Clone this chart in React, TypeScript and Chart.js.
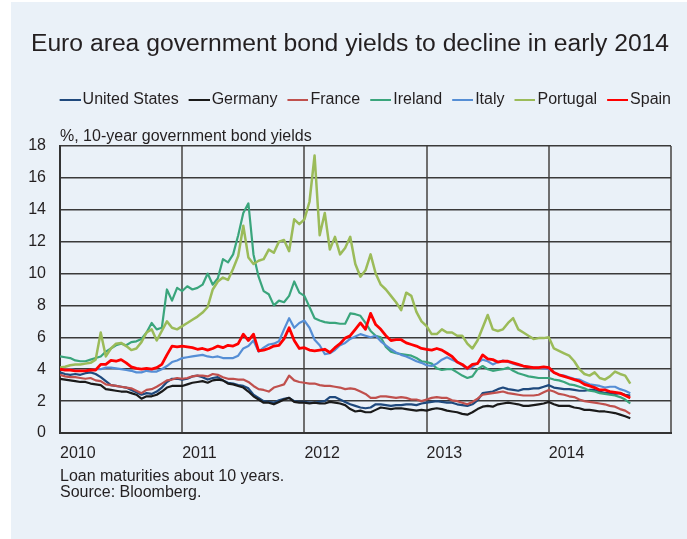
import React, { useEffect, useRef } from 'react';
import { Chart, registerables } from 'chart.js';

Chart.register(...registerables);

// Semi-monthly observations (1st and 15th of each month), Jan 2010 – Aug 2014
const START_YEAR = 2010;
const STEPS_PER_YEAR = 24;

const YEAR_TICKS = [2010, 2011, 2012, 2013, 2014];
const X_MIN = 2010;
const X_MAX = 2015;
const Y_MIN = 0;
const Y_MAX = 18;
const Y_STEP = 2;

const TITLE = 'Euro area government bond yields to decline in early 2014';
const UNIT_NOTE = '%, 10-year government bond yields';
const FOOTNOTES = ['Loan maturities about 10 years.', 'Source: Bloomberg.'];

const unitedStates = [
  3.8, 3.7, 3.65, 3.7, 3.65, 3.75, 3.8, 3.7, 3.5, 3.25, 3.0, 2.95, 2.9, 2.85, 2.7, 2.55, 2.4, 2.5, 2.45, 2.6, 2.85, 3.2, 3.4, 3.4,
  3.35, 3.4, 3.55, 3.6, 3.5, 3.35, 3.45, 3.5, 3.3, 3.15, 3.1, 3.0, 2.95, 2.8, 2.4, 2.2, 2.0, 1.95, 1.9, 2.05, 2.15, 2.2, 2.0, 1.95,
  1.95, 1.9, 1.9, 1.95, 2.0, 2.25, 2.25, 2.1, 1.95, 1.8, 1.7, 1.6, 1.55, 1.6, 1.8, 1.8, 1.75, 1.7, 1.75, 1.75, 1.8, 1.8, 1.75, 1.85,
  1.9, 1.95, 2.0, 1.95, 1.9, 1.9, 1.8, 1.75, 1.7, 1.8, 2.05, 2.5, 2.55, 2.6, 2.75, 2.85, 2.75, 2.7, 2.65, 2.75, 2.75, 2.8, 2.8, 2.9,
  3.0, 2.85, 2.8, 2.75, 2.75, 2.7, 2.65, 2.65, 2.7, 2.7, 2.6, 2.5, 2.5, 2.45, 2.5, 2.4, 2.35,
];

const germany = [
  3.4, 3.35, 3.3, 3.25, 3.2, 3.2, 3.1, 3.05, 3.0, 2.75, 2.7, 2.65, 2.6, 2.6, 2.5, 2.4, 2.15, 2.3, 2.3, 2.4, 2.6, 2.85, 2.95, 2.95,
  2.95, 3.05, 3.15, 3.2, 3.25, 3.15, 3.3, 3.35, 3.3, 3.1, 3.05, 2.95, 2.85, 2.6, 2.3, 2.1, 1.9, 1.9, 1.8, 1.95, 2.1, 2.2, 1.95, 1.9,
  1.9, 1.85, 1.9, 1.85, 1.85, 1.95, 1.9, 1.85, 1.75, 1.5, 1.35, 1.4, 1.3, 1.3, 1.45, 1.6, 1.55, 1.5, 1.55, 1.55, 1.5, 1.45, 1.4, 1.45,
  1.4, 1.5, 1.55, 1.5, 1.4, 1.35, 1.3, 1.2, 1.15, 1.3, 1.5, 1.65, 1.7, 1.65, 1.8, 1.85, 1.9, 1.85, 1.8, 1.7, 1.7, 1.75, 1.8, 1.85,
  1.95, 1.8, 1.7, 1.7, 1.7, 1.6, 1.55, 1.45, 1.45, 1.4, 1.35, 1.35, 1.3, 1.25, 1.15, 1.05, 0.92,
];

const france = [
  3.65, 3.55, 3.5, 3.5, 3.45, 3.4, 3.45, 3.3, 3.25, 3.05, 3.0, 2.95, 2.9, 2.85, 2.8, 2.65, 2.5, 2.7, 2.75, 2.9, 3.1, 3.3, 3.35, 3.45,
  3.4, 3.45, 3.55, 3.6, 3.6, 3.55, 3.7, 3.65, 3.5, 3.4, 3.4, 3.35, 3.35, 3.2, 2.95, 2.75, 2.7, 2.6, 2.85, 2.95, 3.05, 3.6, 3.3, 3.2,
  3.15, 3.1, 3.1, 3.0, 2.95, 2.95, 2.9, 2.85, 2.75, 2.8, 2.75, 2.6, 2.45, 2.2, 2.2, 2.3, 2.3, 2.25, 2.2, 2.25, 2.2, 2.1, 2.1, 2.0,
  2.1, 2.2, 2.25, 2.2, 2.2, 2.05, 2.0, 1.9, 1.8, 1.95, 2.15, 2.4, 2.45, 2.5, 2.55, 2.6, 2.5, 2.45, 2.4, 2.35, 2.35, 2.35, 2.4, 2.55,
  2.7, 2.6, 2.45, 2.4, 2.3, 2.25, 2.1, 2.0, 1.95, 1.9, 1.85, 1.8, 1.7, 1.65, 1.5, 1.4, 1.2,
];

const ireland = [
  4.8, 4.75, 4.7, 4.55, 4.5, 4.5, 4.6, 4.7, 4.8, 5.1, 5.3, 5.5, 5.6, 5.5, 5.7, 5.75, 5.9, 6.3, 6.9, 6.5, 6.6, 9.0, 8.3, 9.1,
  8.9, 9.2, 9.0, 9.1, 9.3, 10.0, 9.3, 9.7, 10.9, 10.7, 11.2, 12.4, 13.8, 14.4, 11.2, 9.8, 8.9, 8.7, 8.0, 8.3, 8.2, 8.6, 9.5, 8.8,
  8.6, 7.9, 7.2, 7.05, 6.95, 6.9, 6.9, 6.85, 6.85, 7.5, 7.45, 7.35, 6.9, 6.4, 6.1, 6.0, 5.4, 5.1, 5.0, 4.95, 4.9, 4.85, 4.7, 4.5,
  4.45, 4.35, 4.05, 3.95, 4.0, 4.0, 3.8, 3.6, 3.45, 3.55, 4.0, 4.2, 4.0, 3.9, 3.95, 4.0, 4.1, 3.9, 3.75, 3.65, 3.55, 3.5, 3.45, 3.45,
  3.45, 3.35, 3.3, 3.2, 3.05, 3.0, 2.9, 2.8, 2.65, 2.6, 2.5, 2.45, 2.4, 2.35, 2.25, 2.1, 1.85,
];

const italy = [
  4.05, 4.0, 4.0, 3.95, 3.9, 3.9, 3.95, 4.0, 4.0, 4.1, 4.1, 4.05, 4.0, 3.95, 3.9, 3.8, 3.8, 3.9, 3.85, 3.85, 4.0, 4.2, 4.45, 4.55,
  4.7, 4.75, 4.8, 4.85, 4.9, 4.8, 4.75, 4.8, 4.7, 4.7, 4.7, 4.85, 5.3, 5.45, 5.8, 5.1, 5.35, 5.55, 5.6, 5.75, 6.5, 7.2, 6.6, 6.9,
  7.05, 6.6, 5.85, 5.5, 4.95, 5.0, 5.2, 5.5, 5.65, 5.9, 6.05, 6.2, 6.1, 6.0, 6.1, 5.75, 5.5, 5.25, 5.05, 4.9, 4.8, 4.65, 4.5, 4.4,
  4.25, 4.2, 4.35, 4.6, 4.75, 4.6, 4.45, 4.25, 4.0, 4.15, 4.4, 4.6, 4.5, 4.3, 4.45, 4.55, 4.45, 4.35, 4.25, 4.2, 4.15, 4.1, 4.1, 4.05,
  4.0, 3.8, 3.65, 3.6, 3.5, 3.4, 3.35, 3.2, 3.05, 3.0, 2.95, 2.85, 2.9, 2.9, 2.75, 2.65, 2.5,
];

const portugal = [
  4.1, 4.15, 4.25, 4.3, 4.3, 4.35, 4.4, 4.6, 6.3, 4.8, 5.3, 5.6, 5.65, 5.45, 5.2, 5.3, 5.7, 6.3, 6.5, 5.8, 6.4, 7.0, 6.6, 6.5,
  6.7, 6.9, 7.1, 7.3, 7.55, 7.9, 9.0, 9.5, 9.75, 9.6, 10.3, 11.1, 13.0, 11.0, 10.6, 10.8, 10.9, 11.5, 11.3, 12.0, 12.1, 11.4, 13.4, 13.1,
  13.4, 14.5, 17.4, 12.4, 13.8, 11.5, 12.3, 11.2, 11.6, 12.3, 10.6, 9.8, 10.2, 11.2, 10.0, 9.3, 9.0, 8.6, 8.2, 7.7, 8.8, 8.6, 7.6, 7.0,
  6.7, 6.2, 6.2, 6.5, 6.3, 6.3, 6.1, 6.1, 5.6, 5.3, 5.8, 6.6, 7.4, 6.5, 6.4, 6.5, 6.9, 7.2, 6.5, 6.3, 6.1, 5.9, 5.95, 5.95,
  6.0, 5.3, 5.15, 5.0, 4.85, 4.5, 4.0, 3.7, 3.6, 3.8, 3.45, 3.35, 3.55, 3.85, 3.7, 3.6, 3.1,
];

const spain = [
  4.0, 3.95, 3.95, 3.9, 3.9, 3.9, 3.95, 3.95, 4.3, 4.3, 4.55, 4.5, 4.6, 4.4, 4.15, 4.05, 4.0, 4.05, 4.0, 4.1, 4.3, 4.9, 5.45, 5.4,
  5.45, 5.4, 5.35, 5.25, 5.3, 5.2, 5.3, 5.45, 5.35, 5.5, 5.45, 5.6, 6.2, 5.8, 6.2, 5.15, 5.2, 5.3, 5.45, 5.5, 5.9, 6.6, 5.8, 5.3,
  5.35, 5.2, 5.15, 5.2, 5.25, 5.05, 5.35, 5.6, 5.95, 6.1, 6.5, 6.9, 6.5, 7.5, 6.8, 6.5, 6.1, 5.8, 5.85, 5.85, 5.65, 5.55, 5.45, 5.3,
  5.25, 5.2, 5.3, 5.2, 5.0, 4.8, 4.45, 4.3, 4.05, 4.3, 4.35, 4.9, 4.65, 4.6, 4.45, 4.5, 4.5, 4.4, 4.3, 4.2, 4.15, 4.1, 4.1, 4.15,
  4.1, 3.8, 3.65, 3.55, 3.45, 3.35, 3.25, 3.05, 2.95, 2.85, 2.7, 2.7, 2.6, 2.55, 2.5, 2.35, 2.2,
];

const SERIES = [
  { label: 'United States', values: unitedStates, color: '#1f497d', width: 2.2 },
  { label: 'Germany', values: germany, color: '#1a1a1a', width: 2.2 },
  { label: 'France', values: france, color: '#c0504d', width: 2.2 },
  { label: 'Ireland', values: ireland, color: '#3aa57c', width: 2.2 },
  { label: 'Italy', values: italy, color: '#558ed5', width: 2.2 },
  { label: 'Portugal', values: portugal, color: '#9bbb59', width: 2.5 },
  { label: 'Spain', values: spain, color: '#ff0000', width: 2.8 },
];

const FONT_FAMILY = '"Liberation Sans", Arial, Helvetica, sans-serif';
const TEXT_COLOR = '#231f20';
const PANEL_BG = '#eaf1f8';

export default function App() {
  const canvasRef = useRef<HTMLCanvasElement | null>(null);

  useEffect(() => {
    const canvas = canvasRef.current;
    if (!canvas) return;

    // legend swatches: short thick line placed just left of the label text
    const legendImages = SERIES.map((s) => {
      const c = document.createElement('canvas');
      c.width = 37;
      c.height = 2;
      const g = c.getContext('2d');
      if (g) {
        g.fillStyle = s.color;
        g.fillRect(16, 0, 21, 2);
      }
      return c;
    });

    const dates = SERIES[0].values.map((_, i) => START_YEAR + i / STEPS_PER_YEAR);

    const chart = new Chart(canvas, {
      type: 'line',
      data: {
        datasets: SERIES.map((s, idx) => ({
          label: s.label,
          data: s.values.map((v, i) => ({ x: dates[i], y: v })),
          borderColor: s.color,
          backgroundColor: s.color,
          borderWidth: s.width,
          borderJoinStyle: 'round' as const,
          pointRadius: 0,
          pointHoverRadius: 0,
          tension: 0,
          order: SERIES.length - idx,
        })),
      },
      options: {
        animation: false,
        responsive: false,
        devicePixelRatio: 1,
        events: [],
        layout: { padding: { left: 18, right: 16, top: 0, bottom: 0 } },
        font: { family: FONT_FAMILY },
        color: TEXT_COLOR,
        plugins: {
          title: {
            display: true,
            text: TITLE,
            color: TEXT_COLOR,
            font: { family: FONT_FAMILY, size: 24.7, weight: 'normal' },
            padding: { top: 27.8, bottom: 32.5 },
          },
          legend: {
            display: true,
            position: 'top',
            align: 'end',
            labels: {
              usePointStyle: true,
              pointStyleWidth: 25,
              padding: 0,
              color: TEXT_COLOR,
              font: { family: FONT_FAMILY, size: 16 },
              sort: (a: any, b: any) => a.datasetIndex - b.datasetIndex,
              generateLabels: (ch: any) => {
                const items = Chart.defaults.plugins.legend.labels.generateLabels(ch);
                items.forEach((it: any) => {
                  it.pointStyle = legendImages[it.datasetIndex];
                });
                return items;
              },
            },
          },
          subtitle: {
            display: true,
            text: UNIT_NOTE,
            align: 'start',
            fullSize: false,
            weight: 500,
            color: TEXT_COLOR,
            font: { family: FONT_FAMILY, size: 16, weight: 'normal' },
            padding: { top: 8.8, bottom: 0 },
          } as any,
          tooltip: { enabled: false },
        },
        scales: {
          x: {
            type: 'linear',
            min: X_MIN,
            max: X_MAX,
            afterFit: (scale: any) => {
              scale.height = 106;
            },
            ticks: {
              stepSize: 1,
              autoSkip: false,
              maxRotation: 0,
              align: 'start',
              padding: 11,
              color: TEXT_COLOR,
              font: { family: FONT_FAMILY, size: 16 },
              callback: (v: any) => (YEAR_TICKS.includes(Number(v)) ? String(v) : ''),
            },
            grid: { drawTicks: false, color: '#6e6e6e', lineWidth: 2 },
            border: { display: true, color: '#333333', width: 2 },
            title: {
              display: true,
              text: FOOTNOTES,
              align: 'start',
              color: TEXT_COLOR,
              font: { family: FONT_FAMILY, size: 16, lineHeight: '16px' },
              padding: { top: 0, bottom: 38.5 },
            },
          },
          y: {
            type: 'linear',
            min: Y_MIN,
            max: Y_MAX,
            afterFit: (scale: any) => {
              scale.width = 31;
            },
            ticks: {
              stepSize: Y_STEP,
              padding: 14,
              color: TEXT_COLOR,
              font: { family: FONT_FAMILY, size: 16 },
            },
            grid: { drawTicks: false, color: '#3a3a3a', lineWidth: 1.5 },
            border: { display: true, color: '#333333', width: 2 },
          },
        },
      } as any,
    });

    return () => {
      chart.destroy();
    };
  }, []);

  return (
    <div style={{ position: 'fixed', left: 0, top: 0, width: 687, height: 539, background: '#ffffff' }}>
      <div style={{ position: 'absolute', left: 11, top: 2, width: 676, height: 537, background: PANEL_BG }}>
        <canvas ref={canvasRef} width={676} height={537} style={{ display: 'block', width: 676, height: 537 }} />
      </div>
    </div>
  );
}
